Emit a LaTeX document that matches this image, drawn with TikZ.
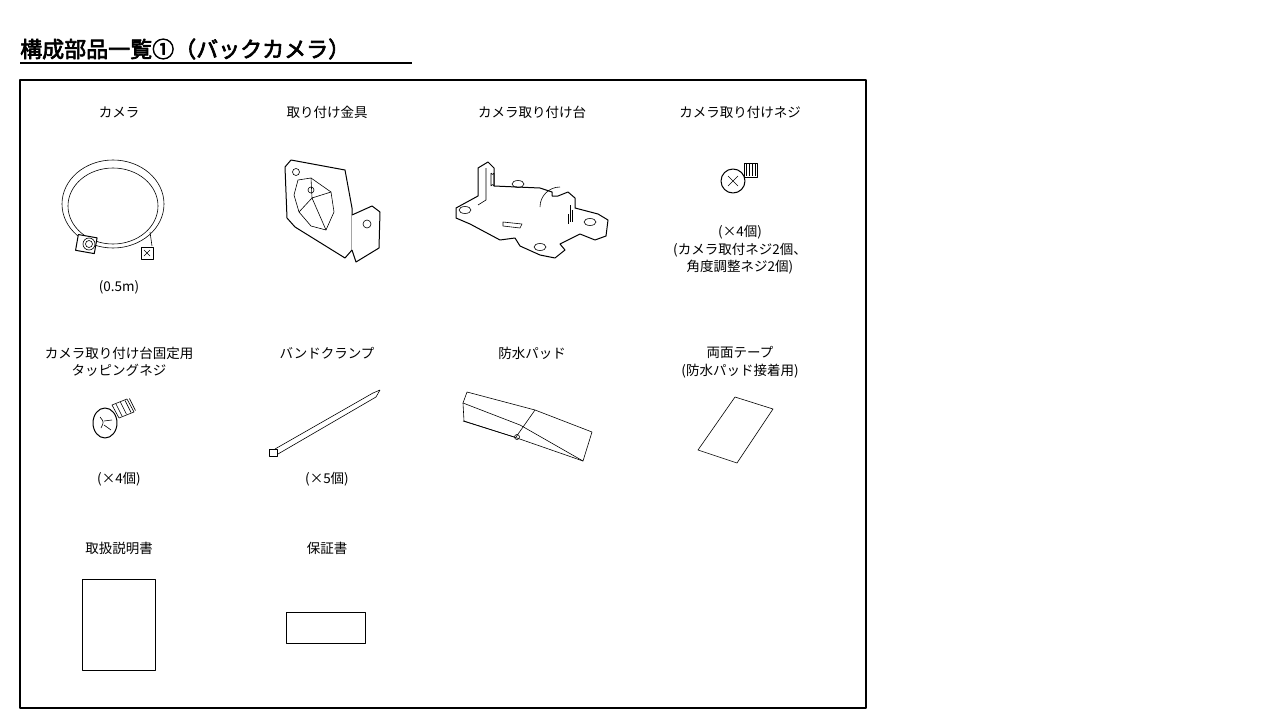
\documentclass[tikz,border=0pt]{standalone}
\usepackage{fontspec}
\setmainfont{Noto Sans CJK JP}
\newfontfamily\titlefont[AutoFakeBold=3]{Noto Sans CJK JP}
\begin{document}
\begin{tikzpicture}[x=1pt,y=-1pt,line join=round]
\tikzset{lbl/.style={font=\fontsize{13.5}{17.5}\selectfont,align=center},
 ln/.style={draw=black,line width=0.6pt}, thk/.style={draw=black,line width=1pt,fill=white}}
\useasboundingbox (0,0) rectangle (1280,720);
\node[anchor=west,inner sep=0] (title) at (20,49) {\titlefont\fontsize{22}{26}\selectfont\textbf{構成部品一覧①（バックカメラ）}};
\draw[line width=1.5pt] (20,63) -- (412,63);
\draw[line width=1.2pt] (20,80) rectangle (866,708);
% labels
\node[lbl] (l1) at (119,112) {カメラ};
\node[lbl] (l2) at (327,112) {取り付け金具};
\node[lbl] (l3) at (532,112) {カメラ取り付け台};
\node[lbl] (l4) at (740,112) {カメラ取り付けネジ};
\node[lbl] (n1) at (119,287) {(0.5m)};
\node[lbl] (n4) at (740,250) {(×4個)\\(カメラ取付ネジ2個、\\角度調整ネジ2個)};
\node[lbl] (l5) at (119,362) {カメラ取り付け台固定用\\タッピングネジ};
\node[lbl] (l6) at (327,353) {バンドクランプ};
\node[lbl] (l7) at (532,353) {防水パッド};
\node[lbl] (l8) at (740,362) {両面テープ\\(防水パッド接着用)};
\node[lbl] (n5) at (119,479) {(×4個)};
\node[lbl] (n6) at (327,479) {(×5個)};
\node[lbl] (l9) at (119,548) {取扱説明書};
\node[lbl] (l10) at (327,548) {保証書};
% camera cable
\draw[ln] (113,204) ellipse (51 and 44);
\draw[ln] (113,206) ellipse (45 and 38);
\draw[ln] (88,240) -- (90,236);
\draw[ln] (150,232) -- (152,246);
\draw[thk,rotate around={-10:(86,243)}] (77,236) rectangle (96,252);
\draw[ln] (89,244) circle (6); \draw[ln] (89,244) circle (3.5);
\draw[thk] (141,247) rectangle (153,259);
\draw[ln] (144,250) -- (150,256) (150,250) -- (144,256);
% bracket
\draw[thk] (291,160) -- (345,170) -- (352,208) -- (352,250) -- (345,258) -- (295,227) -- (287,218) -- (285,167) -- cycle;
\draw[ln] (298,180) -- (311,178) -- (331,192) -- (334,212) -- (326,230) -- (311,226) -- (299,212) -- (294,195) -- cycle;
\draw[ln] (311,178) -- (312,198) -- (331,192) (312,198) -- (299,212) (312,198) -- (326,230);
\draw[ln] (296,172) circle (3.5); \draw[ln] (311,190) circle (3);
\draw[thk] (352,215) -- (372,206) -- (380,212) -- (379,248) -- (356,262) -- (352,250);
\draw[ln] (367,224) circle (4);
% camera mount base
\draw[thk] (456,208) -- (478,196) -- (478,168) -- (488,162) -- (494,168) -- (494,186) -- (540,188) -- (552,192) -- (552,196) -- (558,196) -- (568,192) -- (575,198) -- (575,208) -- (598,214) -- (608,220) -- (606,236) -- (595,240) -- (580,234) -- (560,244) -- (565,250) -- (555,258) -- (540,255) -- (520,246) -- (515,238) -- (500,240) -- (470,224) -- (456,218) -- cycle;
\draw[ln] (486,168) -- (486,200) -- (478,205);
\draw[ln] (491,173) -- (491,186) (494,173) -- (494,186) (491,173) arc (180:0:1.5) (491,186) arc (180:360:1.5);
\draw[ln] (570,205) -- (570,222) (572,210) -- (572,222) (568,214) -- (568,224);
\draw[ln] (540,207) arc (180:270:20);
\draw[ln] (465,210) ellipse (6 and 3.5); \draw[ln] (518,184) ellipse (6 and 3.5);
\draw[ln] (590,222) ellipse (6 and 3.5); \draw[ln] (540,247) ellipse (6 and 3.5);
\draw[ln] (503,222) -- (522,224) -- (520,228) -- (503,226) -- cycle;
% small screw
\draw[ln,fill=white] (744,163) rectangle (757,177);
\foreach \i in {746,749,752,755} \draw[ln] (\i,164) -- (\i,176);
\draw[thk] (733,181) ellipse (12 and 12);
\draw[ln] (728,176) -- (738,186) (738,176) -- (728,186);
% tapping screw
\draw[ln,fill=white] (112,405) -- (127,399) -- (134,412) -- (119,418) -- cycle;
\foreach \i in {0,3,6,9} \draw[ln] (116+1.5*\i,404-0.6*\i) -- (122+1.5*\i,416-0.6*\i);
\draw[thk] (105,423) ellipse (12 and 15);
\draw[ln] (100,417) .. controls (104,422) .. (101,428) (104,421) -- (112,420) (104,425) -- (111,430);
% band clamp
\draw[ln] (275,449) -- (373,393) (278,454) -- (376,397);
\draw[ln] (373,393) -- (380,390) -- (376,397);
\draw[thk] (269,449) rectangle (277,456);
% waterproof pad
\draw[ln] (463,403) -- (467,392) -- (535,410) -- (592,432) -- (583,461) -- (514,437) -- (464,421) -- cycle;
\draw[ln] (535,410) -- (516,437) (463,421) -- (514,437);
\draw[ln] (463,403) -- (520,425) -- (583,461);
\draw[ln] (517,437) circle (2.5);
% tape
\draw[ln] (735,397) -- (773,409) -- (737,463) -- (698,450) -- cycle;
% manual, warranty
\draw[ln] (82,579) rectangle (155,670);
\draw[ln] (286,612) rectangle (365,643);
\end{tikzpicture}
\end{document}
